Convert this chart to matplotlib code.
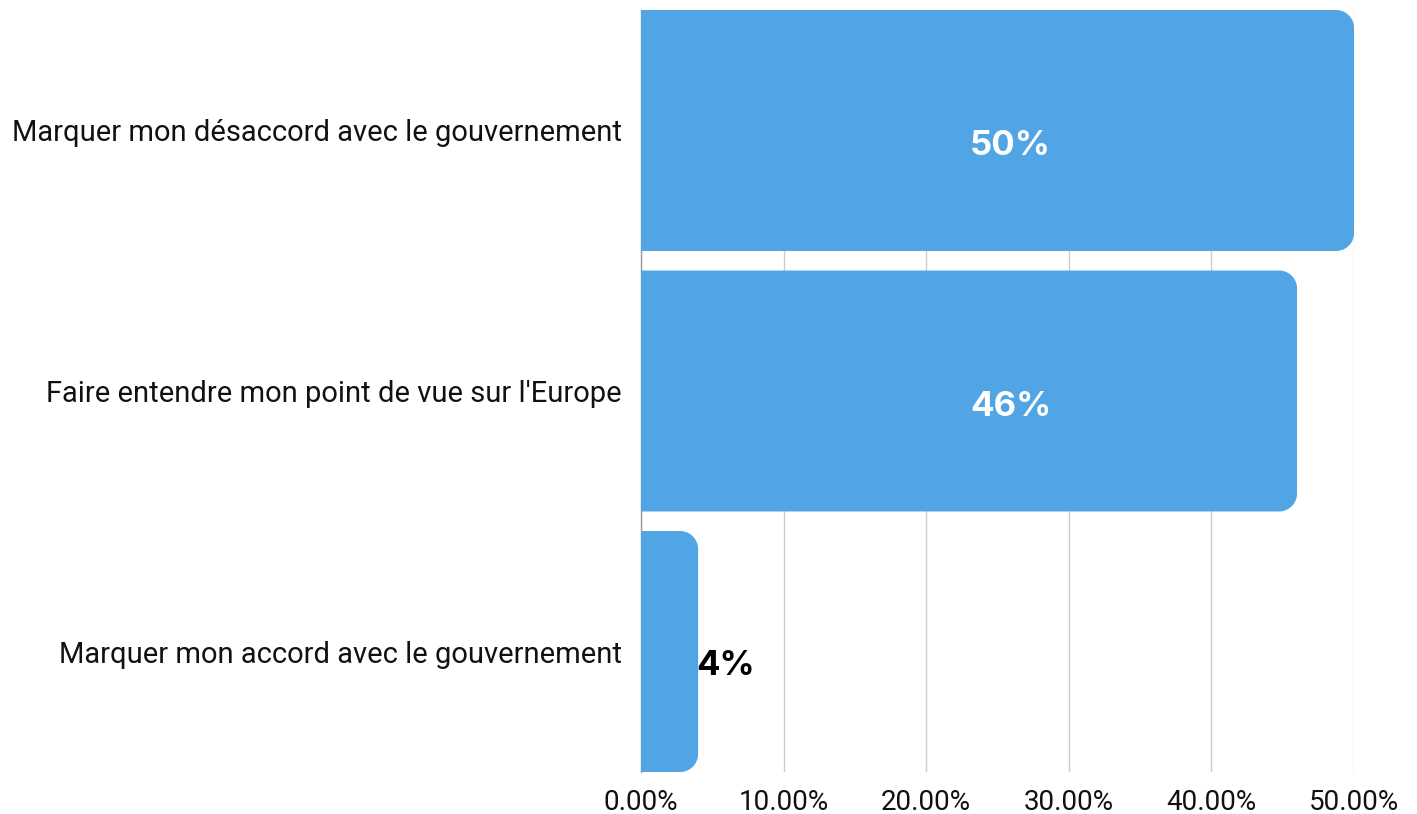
import matplotlib.pyplot as plt
from matplotlib.patches import PathPatch
from matplotlib.path import Path
from matplotlib.ticker import FuncFormatter
import numpy as np

categories = [
    "Marquer mon désaccord avec le gouvernement",
    "Faire entendre mon point de vue sur l'Europe",
    "Marquer mon accord avec le gouvernement",
]
values = [50, 46, 4]
labels = ["50%", "46%", "4%"]

bar_color = "#51a5e5"
bar_h = 0.925

fig = plt.figure(figsize=(14.17, 8.14), dpi=100)
ax = fig.add_axes([0.4524, 0.0516, 0.5032, 0.9361])

ax.set_xlim(0, 50)
ax.set_ylim(2 + bar_h / 2, -bar_h / 2)

# px -> data scale, to get round corners of ~18 px
px_x = 50 / 713.0
px_y = 2.925 / 762.0
rx, ry = 18 * px_x, 18 * px_y


def rounded_bar(y, w):
    y0, y1 = y - bar_h / 2, y + bar_h / 2
    r_x = min(rx, w / 2)
    t = np.linspace(0, np.pi / 2, 20)
    pts = [(0, y0)]
    # top-right corner (y0 is top since axis inverted)
    cx, cy = w - r_x, y0 + ry
    pts += [(cx + r_x * np.sin(a), cy - ry * np.cos(a)) for a in t]
    cx, cy = w - r_x, y1 - ry
    pts += [(cx + r_x * np.cos(a), cy + ry * np.sin(a)) for a in t]
    pts += [(0, y1), (0, y0)]
    return Path(pts, closed=True)


for i, v in enumerate(values):
    ax.add_patch(PathPatch(rounded_bar(i, v), facecolor=bar_color,
                           edgecolor="none", zorder=2))

lab_font = ["Inter", "DejaVu Sans"]
for i, (v, lab) in enumerate(zip(values, labels)):
    if v > 10:
        ax.text(25.9, i + 0.06, lab, ha="center", va="center", color="white",
                fontsize=25, fontweight="bold", family=lab_font, zorder=3)
    else:
        ax.text(v - 0.1, i + 0.055, lab, ha="left", va="center", color="black",
                fontsize=25, fontweight="bold", family=lab_font, zorder=3)

ax.set_xticks([0, 10, 20, 30, 40, 50])
ax.xaxis.set_major_formatter(FuncFormatter(lambda x, p: f"{x:.2f}%"))
ax.set_yticks(range(len(categories)))
ax.set_yticklabels(categories)

for lbl in ax.get_xticklabels():
    lbl.set_family("Roboto")
    lbl.set_fontsize(20)
    lbl.set_color("#111111")
for lbl in ax.get_yticklabels():
    lbl.set_family("Roboto")
    lbl.set_fontsize(21)
    lbl.set_color("#111111")

ax.tick_params(axis="both", length=0)
ax.tick_params(axis="y", pad=14)
ax.tick_params(axis="x", pad=12)

ax.grid(axis="x", color="#cccccc", linewidth=1, zorder=0)
ax.set_axisbelow(True)
for s in ["top", "right", "bottom"]:
    ax.spines[s].set_visible(False)
ax.spines["left"].set_color("#999999")
ax.spines["left"].set_linewidth(1)
ax.spines["left"].set_zorder(1)

plt.savefig("out.png", dpi=100)
